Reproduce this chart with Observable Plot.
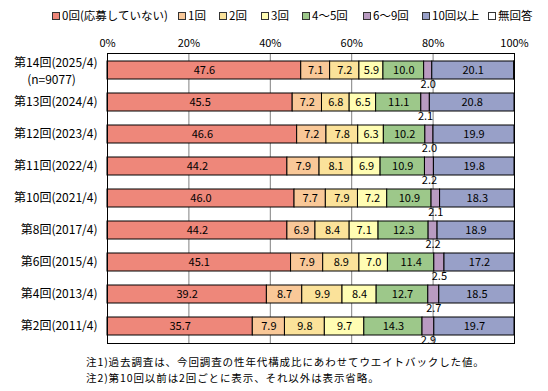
<!DOCTYPE html>
<html><head><meta charset="utf-8">
<script src="https://cdn.jsdelivr.net/npm/d3@7"></script>
<script src="https://cdn.jsdelivr.net/npm/@observablehq/plot@0.6"></script>
<style>
body{margin:0;background:#fff;font-family:"Noto Sans CJK JP",sans-serif;}
#wrap{position:relative;width:548px;height:391px;overflow:hidden;}
#legend{position:relative;height:30px;font-size:11.5px;}
.li{position:absolute;top:8px;line-height:15px;white-space:nowrap;display:flex;align-items:center;}
.sw{width:6px;height:6px;border:1px solid #333;margin-right:2px;}
#notes{font-size:10.5px;letter-spacing:0.9px;line-height:15.5px;padding:4px 0 0 86px;white-space:nowrap;}
</style></head>
<body><div id="wrap"><div id="legend"></div><div id="chart"></div><div id="notes"></div></div>
<script>
const rounds = ["第14回(2025/4)","第13回(2024/4)","第12回(2023/4)","第11回(2022/4)","第10回(2021/4)","第8回(2017/4)","第6回(2015/4)","第4回(2013/4)","第2回(2011/4)"];
const categories = ["0回(応募していない)","1回","2回","3回","4～5回","6～9回","10回以上","無回答"];
const colors = ["#EE877A","#F9C898","#FBE29A","#FFFDB3","#9DC88A","#B99BC1","#98A0C8","#FFFFFF"];
const legendX = [52,178,219,261,302,363,422,488];
const s0   = [47.6,45.5,46.6,44.2,46.0,44.2,45.1,39.2,35.7];
const s1   = [7.1,7.2,7.2,7.9,7.7,6.9,7.9,8.7,7.9];
const s2   = [7.2,6.8,7.8,8.1,7.9,8.4,8.9,9.9,9.8];
const s3   = [5.9,6.5,6.3,6.9,7.2,7.1,7.0,8.4,9.7];
const s45  = [10.0,11.1,10.2,10.9,10.9,12.3,11.4,12.7,14.3];
const s69  = [2.0,2.1,2.0,2.2,2.1,2.2,2.5,2.7,2.9];
const s10  = [20.1,20.8,19.9,19.8,18.3,18.9,17.2,18.5,19.7];
const sNA  = [0.1,0.0,0.0,0.0,0.0,0.0,0.0,0.0,0.0];
const sampleNote = "(n=9077)";
const notes = ["注1)過去調査は、今回調査の性年代構成比にあわせてウエイトバックした値。","注2)第10回以前は2回ごとに表示、それ以外は表示省略。"];
const ticks = [0,0.2,0.4,0.6,0.8,1];

const series = [s0,s1,s2,s3,s45,s69,s10,sNA];
const data = [];
rounds.forEach((r,i)=>series.forEach((s,j)=>data.push({round:r,cat:categories[j],value:s[i]})));

const lg = document.getElementById("legend");
categories.forEach((c,j)=>{
  const d=document.createElement("div");d.className="li";d.style.left=legendX[j]+"px";
  d.innerHTML=`<span class="sw" style="background:${colors[j]}"></span><span>${c}</span>`;
  lg.appendChild(d);
});
document.getElementById("notes").innerHTML = notes.map(n=>`<div>${n}</div>`).join("");

const stk = (o)=>Plot.stackX({x:"value",y:"round",offset:"normalize",...o});
const font = '"Noto Sans CJK JP", sans-serif';
const plot = Plot.plot({
  width:548, height:320,
  marginTop:23, marginBottom:7, marginLeft:107, marginRight:34,
  style:{fontFamily:font,fontSize:"11px",background:"#fff",color:"#000"},
  x:{domain:[0,1]},
  y:{domain:rounds, paddingInner:0.435, paddingOuter:0.17, axis:null},
  color:{domain:categories, range:colors},
  marks:[
    Plot.gridX(ticks.slice(1,-1),{stroke:"#808080",strokeOpacity:1}),
    Plot.barX(data, stk({fill:"cat",stroke:"#000",strokeWidth:1})),
    Plot.text(data, stk({text:d=>(d.cat==="6～9回"||d.cat==="無回答")?"":d.value.toFixed(1),fill:"#000",fontSize:11})),
    Plot.text(data, stk({text:d=>d.cat==="6～9回"?d.value.toFixed(1):"",fill:"#000",fontSize:11,dy:14})),
    Plot.frame({stroke:"#000",strokeWidth:1}),
    Plot.axisX({anchor:"top",ticks,tickFormat:d=>Math.round(d*100)+"%",tickSize:0,tickPadding:7,label:null,fontSize:11}),
    Plot.text(rounds.slice(1),{y:d=>d,text:d=>d,frameAnchor:"left",dx:-10,textAnchor:"end",fontSize:12}),
    Plot.text(rounds.slice(0,1),{y:d=>d,text:d=>d,frameAnchor:"left",dx:-10,textAnchor:"end",fontSize:12,dy:-7}),
    Plot.text(rounds.slice(0,1),{y:d=>d,text:()=>sampleNote,frameAnchor:"left",dx:-56,textAnchor:"middle",fontSize:12,dy:10})
  ]
});
document.getElementById("chart").appendChild(plot);
</script></body></html>
